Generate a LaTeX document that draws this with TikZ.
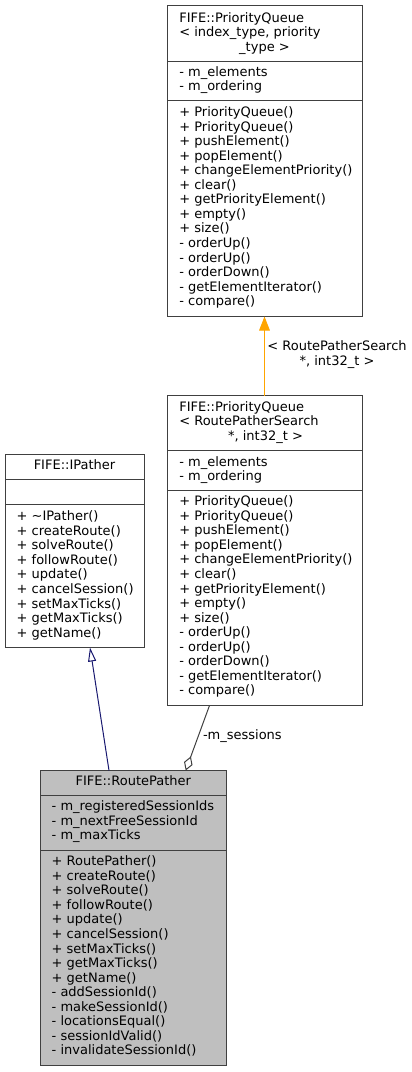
\documentclass[tikz,border=0pt]{standalone}
\usepackage{fontspec}
\setmainfont{DejaVu Sans}
\usetikzlibrary{arrows.meta,calc}
\definecolor{edgegray}{HTML}{404040}
\definecolor{fillgray}{HTML}{BFBFBF}
\definecolor{navyblue}{HTML}{191970}
\definecolor{orng}{HTML}{FFA500}
\newcommand{\blines}[4]{%
  \foreach \t [count=\k] in {#4} {
    \node[txt, anchor=base west] (#1\k) at (#2, {#3+14.55*(\k-1)}) {\t};
  }}
\begin{document}
\begin{tikzpicture}[x=1pt,y=-1pt,
  txt/.style={font=\fontsize{13pt}{14.5pt}\selectfont, inner sep=0pt, outer sep=0pt},
  box/.style={draw=edgegray, line width=1pt, anchor=north west, inner sep=0pt, outer sep=0pt},
  div/.style={draw=edgegray, line width=1pt},
  lbl/.style={txt}]
\useasboundingbox (0,0) rectangle (412,1072);

% ---------- template PriorityQueue ----------
\node[box, minimum width=195pt, minimum height=311pt] (pqt) at (167.5,5.5) {};
\draw[div] ($(pqt.north west)+(0,56)$) -- ($(pqt.north east)+(0,56)$);
\draw[div] ($(pqt.north west)+(0,95)$) -- ($(pqt.north east)+(0,95)$);
\node[txt, anchor=base west] (pqtT1) at (179.3,22) {FIFE::PriorityQueue};
\node[txt, anchor=base west] (pqtT2) at (179.3,36.5) {< index\_type, priority};
\node[txt, anchor=base] (pqtT3) at (264.5,51) {\_type >};
\blines{pqtA}{179.3}{76}{- m\_elements, - m\_ordering}
\blines{pqtM}{179.3}{116.5}{+ PriorityQueue(), + PriorityQueue(), + pushElement(), + popElement(), + changeElementPriority(), + clear(), + getPriorityElement(), + empty(), + size(), - orderUp(), - orderUp(), - orderDown(), - getElementIterator(), - compare()}

% ---------- instantiated PriorityQueue ----------
\node[box, minimum width=195pt, minimum height=310pt] (pqm) at (167.5,395.5) {};
\draw[div] ($(pqm.north west)+(0,55)$) -- ($(pqm.north east)+(0,55)$);
\draw[div] ($(pqm.north west)+(0,95)$) -- ($(pqm.north east)+(0,95)$);
\node[txt, anchor=base west] (pqmT1) at (179.3,411) {FIFE::PriorityQueue};
\node[txt, anchor=base west] (pqmT2) at (179.3,425.5) {< RoutePatherSearch};
\node[txt, anchor=base] (pqmT3) at (265.5,440) {*, int32\_t >};
\blines{pqmA}{179.3}{466}{- m\_elements, - m\_ordering}
\blines{pqmM}{179.3}{505.7}{+ PriorityQueue(), + PriorityQueue(), + pushElement(), + popElement(), + changeElementPriority(), + clear(), + getPriorityElement(), + empty(), + size(), - orderUp(), - orderUp(), - orderDown(), - getElementIterator(), - compare()}

% ---------- IPather ----------
\node[box, minimum width=139pt, minimum height=193pt] (ip) at (5.5,454.5) {};
\draw[div] ($(ip.north west)+(0,25)$) -- ($(ip.north east)+(0,25)$);
\draw[div] ($(ip.north west)+(0,50)$) -- ($(ip.north east)+(0,50)$);
\node[txt, anchor=base] (ipT) at (74.5,469.3) {FIFE::IPather};
\blines{ipM}{16.7}{520.7}{+ \textasciitilde IPather(), + createRoute(), + solveRoute(), + followRoute(), + update(), + cancelSession(), + setMaxTicks(), + getMaxTicks(), + getName()}

% ---------- RoutePather ----------
\node[box, fill=fillgray, minimum width=186pt, minimum height=295pt] (rp) at (40.5,770.5) {};
\draw[div] ($(rp.north west)+(0,25)$) -- ($(rp.north east)+(0,25)$);
\draw[div] ($(rp.north west)+(0,80)$) -- ($(rp.north east)+(0,80)$);
\node[txt, anchor=base] (rpT) at (133.3,785.7) {FIFE::RoutePather};
\blines{rpA}{51.7}{810.7}{- m\_registeredSessionIds, - m\_nextFreeSessionId, - m\_maxTicks}
\blines{rpM}{51.7}{865.7}{+ RoutePather(), + createRoute(), + solveRoute(), + followRoute(), + update(), + cancelSession(), + setMaxTicks(), + getMaxTicks(), + getName(), - addSessionId(), - makeSessionId(), - locationsEqual(), - sessionIdValid(), - invalidateSessionId()}

% ---------- connectors ----------
\coordinate (pqmTop) at ($(pqm.north west)+(97,0)$);
\coordinate (pqtBot) at (pqmTop |- pqt.south);
\draw[orng, line width=1pt, -{Triangle[length=14pt, width=10.7pt]}] (pqmTop) -- (pqtBot);
\node[lbl, anchor=base] (lblA) at (337,350.7) {< RoutePatherSearch};
\node[lbl, anchor=base] (lblB) at (337,365) {*, int32\_t >};

\coordinate (rpIn) at ($(rp.north west)+(68.5,0)$);
\coordinate (ipTip) at ($(ip.south west)+(84.5,0)$);
\draw[navyblue, line width=1pt, -{Triangle[open, length=14pt, width=8pt, fill=white]}] (rpIn) -- (ipTip);

\coordinate (pqmOut) at ($(pqm.south west)+(42,0)$);
\coordinate (rpAgg) at ($(rp.north west)+(145.2,0)$);
\draw[edgegray, line width=1pt, -{Diamond[open, length=15pt, width=9pt, fill=white]}] (pqmOut) -- (rpAgg);
\node[lbl, anchor=base west] (lblC) at (203,739) {-m\_sessions};
\end{tikzpicture}
\end{document}
